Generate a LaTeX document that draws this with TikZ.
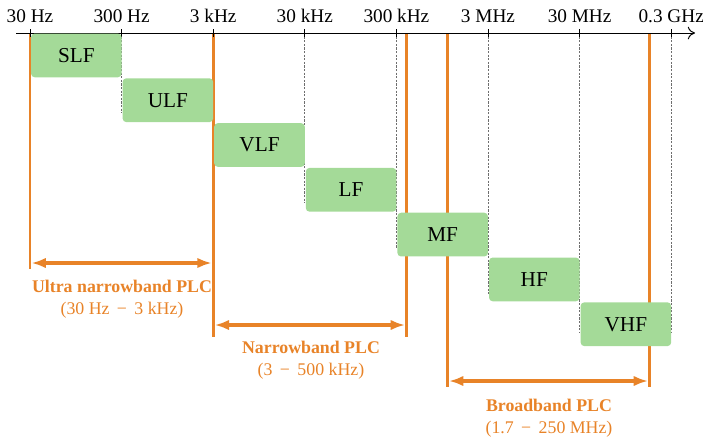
\documentclass[tikz,border=0pt]{standalone}
\usepackage{fontspec}
\setmainfont{Liberation Serif}
\usetikzlibrary{arrows.meta}
\definecolor{plcorange}{RGB}{232,131,40}
\definecolor{bandgreen}{RGB}{164,218,152}
\definecolor{dashgray}{RGB}{110,110,110}
\tikzset{
  bandbox/.style={fill=bandgreen, rounded corners=2pt, inner sep=0pt,
    minimum width=50.3pt, minimum height=24.3pt, font=\fontsize{11.8}{14}\selectfont},
  ticklabel/.style={font=\fontsize{10.7}{12}\selectfont, inner sep=0pt},
  tickdash/.style={draw=dashgray, dash pattern=on 1.2pt off 0.8pt, line width=0.35pt},
  plcline/.style={draw=plcorange, line width=1.6pt},
  plcarrow/.style={draw=plcorange, line width=1.7pt, {Latex[length=8pt,width=5.8pt]}-{Latex[length=8pt,width=5.8pt]}, shorten <=0.8pt, shorten >=0.8pt},
  plclabel/.style={text=plcorange, font=\fontsize{9.9}{12.2}\selectfont, align=center, inner sep=0pt},
}
\begin{document}
\begin{tikzpicture}[x=0.5556pt, y=-0.5556pt]
\useasboundingbox (0,0) rectangle (703,441);
% tick coordinates
\foreach \i/\lab in {0/30 Hz,1/300 Hz,2/3 kHz,3/30 kHz,4/300 kHz,5/3 MHz,6/30 MHz,7/0.3 GHz}{
  \coordinate (t\i) at ({30+91.6*\i},33);
  \node[ticklabel] (lab\i) at ({30+91.6*\i},16) {\lab};
}
% dashed guide lines
\foreach \i/\e in {1/113,3/203,4/248,5/295,6/333,7/333}{
  \coordinate (d\i) at ({30+91.6*\i},\e);
  \draw[tickdash] (t\i) -- (d\i);
}
% orange band limits
\coordinate (a0) at (30,33);   \coordinate (a1) at (30,269);
\coordinate (b0) at (213.2,33); \coordinate (b1) at (213.2,337);
\coordinate (c0) at (406.5,33); \coordinate (c1) at (406.5,337);
\coordinate (e0) at (447.5,33); \coordinate (e1) at (447.5,387);
\coordinate (f0) at (649.5,33); \coordinate (f1) at (649.5,387);
\draw[plcline] (a0) -- (a1);
\draw[plcline] (b0) -- (b1);
\draw[plcline] (c0) -- (c1);
\draw[plcline] (e0) -- (e1);
\draw[plcline] (f0) -- (f1);
% axis
\coordinate (axs) at (16,33);
\coordinate (axe) at (695,33);
\draw[line width=0.55pt, -{To[length=4pt,width=7pt]}] (axs) -- (axe);
\foreach \i in {0,...,7}{
  \draw[line width=0.5pt] ([yshift=2.2pt]t\i) -- ([yshift=-2.2pt]t\i);
}
% bands
\foreach \i/\lab in {0/SLF,1/ULF,2/VLF,3/LF,4/MF,5/HF,6/VHF}{
  \node[bandbox] (band\i) at ({30+91.6*\i+45.8+0.5},{33+44.8*\i+22.4}) {\lab};
}
% arrows
\coordinate (ua) at (30,263);  \coordinate (ub) at (213.2,263);
\coordinate (na) at (213.2,325); \coordinate (nb) at (406.5,325);
\coordinate (ba) at (447.5,381); \coordinate (bb) at (649.5,381);
\draw[plcarrow] (ua) -- (ub);
\draw[plcarrow] (na) -- (nb);
\draw[plcarrow] (ba) -- (bb);
% labels
\node[plclabel] (ulab) at (122,299) {\textbf{Ultra narrowband PLC}\\(30 Hz \,−\, 3 kHz)};
\node[plclabel] (nlab) at (311,360) {\textbf{Narrowband PLC}\\(3 \,−\, 500 kHz)};
\node[plclabel] (blab) at (549,418) {\textbf{Broadband PLC}\\(1.7 \,−\, 250 MHz)};
\end{tikzpicture}
\end{document}
